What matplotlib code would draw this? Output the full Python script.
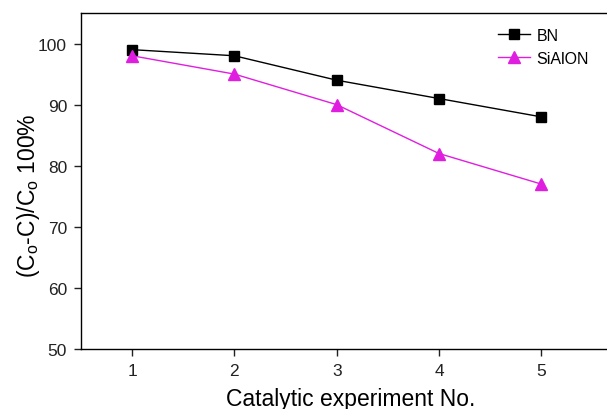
import numpy as np
import matplotlib.pyplot as plt

plt.rcParams['font.family'] = ['Liberation Sans', 'DejaVu Sans']

runs = [1, 2, 3, 4, 5]
bn = [99, 98, 94, 91, 88]
sialon = [98, 95, 90, 82, 77]

fig = plt.figure(figsize=(6.07, 4.10), dpi=100)
# axes runs past the right edge like the cropped original
ax = fig.add_axes([81/607, 60/410, 540/607, 336/410])

ax.plot(runs, bn, color='black', marker='s', markersize=7.5, linewidth=1, label='BN')
ax.plot(runs, sialon, color='#e01ee0', marker='^', markersize=8, linewidth=1, label='SiAlON')

ax.set_xlim(0.5, 5.78)
ax.set_ylim(50, 105)
ax.set_xticks(runs)
ax.set_yticks([50, 60, 70, 80, 90, 100])
ax.spines['right'].set_visible(False)
for s in ['left', 'bottom', 'top']:
    ax.spines[s].set_linewidth(1.0)
ax.tick_params(direction='out', length=5, width=1, labelsize=12.5, colors='#222222', pad=5)

ax.set_xlabel('Catalytic experiment No.', fontsize=16.5)
ax.xaxis.set_label_coords(0.5, -0.114)
ax.set_ylabel('(C$_\\mathregular{o}$-C)/C$_\\mathregular{o}$ 100%', fontsize=16.5, labelpad=-3)
ax.yaxis.label.set_y(0.46)

leg = ax.legend(loc='upper left', bbox_to_anchor=(0.761, 0.975), frameon=False, fontsize=11.5,
                handlelength=2.0, handletextpad=0.4, labelspacing=0.5, borderaxespad=0)

plt.savefig('out.png', dpi=100)
